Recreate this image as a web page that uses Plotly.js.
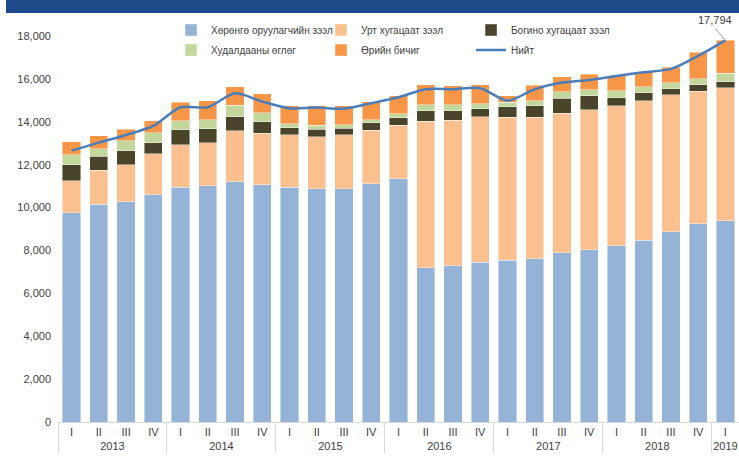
<!DOCTYPE html>
<html><head><meta charset="utf-8">
<script src="https://cdn.plot.ly/plotly-3.0.1.min.js"></script>
<style>
html,body{margin:0;padding:0;background:#fff;}
#banner{position:absolute;left:6px;top:0;width:733px;height:13px;background:#1f4a8a;}
#chart{position:absolute;left:0;top:0;width:739px;height:459px;}
</style>
</head><body>
<div id="chart"></div>
<div id="banner"></div>
<script>
const years = ['2013','2013','2013','2013','2014','2014','2014','2014','2015','2015','2015','2015','2016','2016','2016','2016','2017','2017','2017','2017','2018','2018','2018','2018','2019'];
const quarters = ['I','II','III','IV','I','II','III','IV','I','II','III','IV','I','II','III','IV','I','II','III','IV','I','II','III','IV','I'];

const investorLoan = [9762,10152,10277,10603,10945,11022,11194,11054,10945,10883,10883,11116,11334,7197,7276,7448,7540,7618,7882,8038,8225,8473,8878,9235,9389];
const longTermLoan = [1493,1588,1723,1897,1990,1991,2393,2411,2441,2425,2503,2487,2503,6826,6794,6778,6670,6592,6515,6529,6528,6499,6388,6190,6203];
const shortTermLoan = [745,651,654,528,684,653,653,528,342,342,311,358,356,497,450,373,482,543,700,652,373,387,280,293,280];
const tradeCredit = [453,357,452,467,420,434,531,434,186,187,156,125,187,280,265,233,219,233,309,266,312,266,266,280,392];
const debtSecurities = [622,592,544,560,872,872,854,871,825,902,886,839,839,918,887,886,294,718,699,731,715,700,732,1245,1539];
const total = [12654,13028,13386,13806,14678,14678,15331,14940,14630,14660,14614,14864,15143,15518,15518,15565,14986,15518,15827,15951,16138,16311,16465,17071,17794];

const names = ['Хөрөнгө оруулагчийн зээл','Урт хугацаат зээл','Богино хугацаат зээл','Худалдааны өглөг','Өрийн бичиг','Нийт'];
const colors = ['#95b3d7','#fac090','#4a452a','#c3d69b','#f79646','#4a7ebb'];
const FONT = 'Liberation Sans Narrow, Arial Narrow, Liberation Sans, Arial, sans-serif';

const x = [years, quarters];
const series = [investorLoan, longTermLoan, shortTermLoan, tradeCredit, debtSecurities];
const traces = series.map((v, i) => ({
  type: 'bar', x: x, y: v, name: names[i],
  marker: {color: colors[i], line: {color: 'rgba(255,255,255,0.7)', width: 0.6}},
  legend: i < 3 ? 'legend' : 'legend2',
  hoverinfo: 'y+name'
}));
traces.push({
  type: 'scatter', mode: 'lines', x: x, y: total, name: names[5],
  line: {color: colors[5], width: 2.5, shape: 'spline', smoothing: 0.8},
  legend: 'legend2'
});

const legendCommon = {
  orientation: 'h', xref: 'paper', yref: 'paper', xanchor: 'left', yanchor: 'middle',
  entrywidth: 105, entrywidthmode: 'pixels', bgcolor: 'rgba(0,0,0,0)',
  font: {family: FONT, size: 10, color: '#404040'}, traceorder: 'normal',
  itemwidth: 30, tracegroupgap: 0
};

const layout = {
  width: 739, height: 459,
  margin: {l: 58, r: 0, t: 36, b: 37, autoexpand: false},
  paper_bgcolor: '#fff', plot_bgcolor: '#fff',
  barmode: 'stack', bargap: 0.33,
  font: {family: FONT, size: 11, color: '#404040'},
  showlegend: true,
  legend: Object.assign({}, legendCommon, {x: 0.166, y: (422 - 30) / 386}),
  legend2: Object.assign({}, legendCommon, {x: 0.166, y: (422 - 50) / 386}),
  xaxis: {
    type: 'multicategory', showline: true, linecolor: '#d9d9d9', linewidth: 1,
    showdividers: true, dividercolor: '#d9d9d9', dividerwidth: 1,
    tickfont: {family: FONT, size: 11, color: '#404040'}, ticks: '', showgrid: false
  },
  yaxis: {
    range: [0, 18000], dtick: 2000, tickformat: ',d', showgrid: false, zeroline: false,
    showline: false, ticks: '', ticklabelstandoff: 6,
    tickfont: {family: FONT, size: 11, color: '#404040'}
  },
  annotations: [{
    x: 24, y: total[24], xref: 'x', yref: 'y',
    text: total[24].toLocaleString('en-US'),
    showarrow: true, arrowhead: 0, arrowwidth: 1, arrowcolor: '#a6a6a6',
    ax: -10, ay: -12, font: {family: FONT, size: 11, color: '#404040'},
    yanchor: 'bottom'
  }]
};

Plotly.newPlot('chart', traces, layout, {displayModeBar: false, staticPlot: true});
</script>
</body></html>
